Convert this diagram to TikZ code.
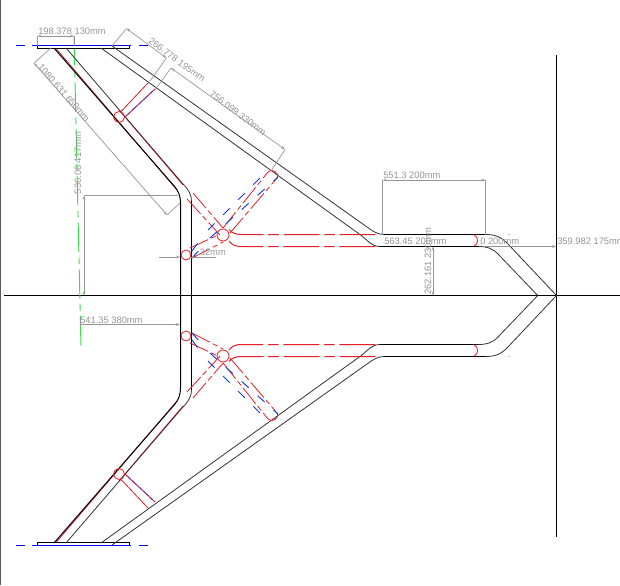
\documentclass[tikz,border=0pt]{standalone}
\usepackage{fontspec}
\usetikzlibrary{arrows.meta}
\setmainfont{Liberation Sans}
\definecolor{dimgray}{RGB}{150,150,150}
\definecolor{redl}{RGB}{230,30,40}
\definecolor{bluel}{RGB}{20,60,235}
\definecolor{plateblue}{RGB}{0,0,230}
\definecolor{greenl}{RGB}{50,225,70}
\tikzset{
  body/.style={draw=black,line width=0.75pt},
  thin body/.style={draw=black!80,line width=0.6pt},
  axisl/.style={draw=black,line width=0.75pt},
  redsolid/.style={draw=redl,line width=0.6pt},
  reddash/.style={draw=redl,line width=0.75pt,dash pattern=on 27pt off 3.5pt on 8pt off 3.5pt},
  reddashb/.style={draw=redl,line width=0.6pt,dash pattern=on 15pt off 2.5pt on 4pt off 2.5pt},
  bluedash/.style={draw=bluel,line width=0.7pt,dash pattern=on 7pt off 9pt},
  platecentre/.style={draw=plateblue,line width=1pt},
  purple dash/.style={draw=bluel!60!redl,line width=0.6pt,dash pattern=on 5pt off 1pt},
  dimline/.style={draw=dimgray,line width=0.5pt},
  dimarrow/.style={draw=dimgray,line width=0.5pt,{Stealth[length=3pt,width=2pt]}-{Stealth[length=3pt,width=2pt]}},
  dimend/.style={draw=dimgray,line width=0.5pt,-{Stealth[length=3pt,width=2pt]}},
  dimtext/.style={text=dimgray,font=\fontsize{7}{8}\selectfont,inner sep=0pt},
}
\newcommand{\halfshape}{%
  % red leg overlay (below the black lines)
  \draw[redsolid] (56,48.5) -- (177,190);
  \draw[redsolid] (119,110) -- (183,185);
  % plate
  \draw[body,fill=white] (37.5,45.5) rectangle (129.5,48.5);
  % main leg
  \draw[body] (54,48) -- (175,187) .. controls (179,192) and (180.5,197) .. (180.5,203) -- (180.5,295.5);
  \draw[thin body] (66,48) -- (183,184) .. controls (189,190) and (191.5,195) .. (191.5,201);
  \draw[body] (191.5,201) -- (191.5,295.5);
  % long diagonal and nose
  \draw[thin body] (112,46) -- (367,227) .. controls (373,231.5) and (378,234.5) .. (384,234.5);
  \draw[body] (384,234.5) -- (485,234.5);
  \draw[thin body] (485,234.5) .. controls (494,234.5) and (500,236) .. (507,243) -- (556.5,295.5);
  \draw[thin body] (101,48) -- (362,236) .. controls (368,241) and (372,246.5) .. (380,246.5);
  \draw[body] (380,246.5) -- (478,246.5);
  \draw[thin body] (478,246.5) .. controls (487,246.5) and (492,248) .. (498,254) -- (537.7,295.5);
  % centre line of the plate
  \draw[platecentre] (16,45.5) -- (25,45.5);
  \draw[platecentre,line width=0.6pt] (32,45.5) -- (131,45.5);
  \draw[platecentre] (139,45.5) -- (148,45.5);
  % branch near the plate
  \draw[redl,line width=0.6pt] (119,117) circle (5.5);
  \draw[redsolid] (120.6,112) -- (148,83);
  \draw[redsolid] (125,117) -- (155,89);
  \draw[purple dash] (126,116) -- (155,89);
  % dashed braces
  \draw[reddashb] (193,193) -- (223,228);
  \draw[reddashb] (187,199) -- (220,235);
  \draw[redl,line width=0.6pt] (223,235) circle (6);
  \draw[redsolid] (268,172) .. controls (271,168) and (280,172) .. (277,178);
  \draw[reddashb] (223,228) -- (268,172);
  \draw[reddashb] (230,233) -- (277,178);
  \draw[bluedash] (208,230) -- (268,170);
  \draw[bluedash] (210,238) -- (278,177);
  \draw[redl,line width=0.6pt] (186,255) circle (5);
  \draw[reddashb] (190,248) -- (218,235);
  \draw[reddashb] (192,258) -- (223,242);
  \draw[bluedash] (192,251) -- (200,240);
  \draw[bluedash] (192,258) -- (202,247);
  % red centre lines to the horizontal run
  \draw[reddash] (229,229.5) .. controls (232,233) and (236,234.5) .. (241,234.5) -- (378,234.5);
  \draw[reddash] (229,241) .. controls (232,245) and (236,246.5) .. (241,246.5) -- (376,246.5);
  % small arcs
  \draw[redsolid] (473.5,234.5) .. controls (479,237) and (479,244) .. (473.5,246.5);
  % small dot
  \fill[black] (509,234.3) circle (0.45);
}
\begin{document}
\begin{tikzpicture}[x=0.75pt,y=-0.75pt]
\useasboundingbox (0,0) rectangle (620,585);
\fill[white] (0,0) rectangle (620,585);
\fill[black!65] (0,0) rectangle (1.3,585);
% axes
\draw[axisl] (4,295.5) -- (620,295.5);
\draw[axisl] (556.5,55) -- (556.5,537);
% centre line, green
\draw[greenl,line width=0.7pt,dash pattern=on 22pt off 4pt on 5pt off 4pt] (74,36) -- (81,348);
% both halves
\halfshape
\begin{scope}[y=0.75pt,yshift=-443.25pt]
\halfshape
\end{scope}
% dimensions
\draw[dimarrow] (37.5,36) -- (74,36);
\draw[dimline] (37.5,36) -- (37.5,46) (74,36) -- (74,46);
\node[dimtext,anchor=base west] (d1) at (38,35) {198.378 130mm};
\draw[dimarrow] (126.5,28.5) -- (166.5,58);
\draw[dimline] (126.5,28.5) -- (112,46) (166.5,58) -- (150,81);
\node[dimtext,rotate=-36] (d2) at (177,60) {266.778 195mm};
\draw[dimarrow] (171,68) -- (285,149.5);
\draw[dimline] (171,68) -- (155,90) (285,149.5) -- (271,171);
\node[dimtext,rotate=-36.5] (d3) at (238,113) {756.099 330mm};
\draw[dimarrow] (34,63) -- (167,215);
\draw[dimline] (34,63) -- (51,48) (167,215) -- (180,203);
\node[dimtext,rotate=-48.5] (d4) at (64,93) {1080.631 650mm};
\draw[dimarrow] (84,195.5) -- (84,295.5);
\draw[dimline] (84,195.5) -- (178,195.5);
\node[dimtext,rotate=90] (d5) at (78,163) {536.06 417mm};
\draw[dimend] (80,324.5) -- (180,324.5);
\draw[dimline] (80,318) -- (80,326);
\node[dimtext,anchor=base west] (d6) at (80,323) {541.35 380mm};
\draw[dimend] (159,257) -- (180,257);
\draw[dimline] (191,257) -- (216,257);
\node[dimtext,anchor=base west] (d7) at (197,255.5) {.32mm};
\draw[dimarrow] (382.5,180) -- (485.5,180);
\draw[dimline] (382.5,180) -- (382.5,235) (485.5,180) -- (485.5,235);
\node[dimtext,anchor=base west] (d8) at (383,178) {551.3 200mm};
\node[dimtext,anchor=base west] (d9) at (384,244) {563.45 200mm};
\node[dimtext,anchor=base west] (d10) at (480,244) {0 200mm};
\draw[dimend] (485,246.5) -- (556,246.5);
\node[dimtext,anchor=base west] (d11) at (557,244) {359.982 175mm};
\draw[dimarrow] (433,246.5) -- (433,295.5);
\node[dimtext,rotate=90] (d12) at (428,261) {262.161 230mm};
\end{tikzpicture}
\end{document}
